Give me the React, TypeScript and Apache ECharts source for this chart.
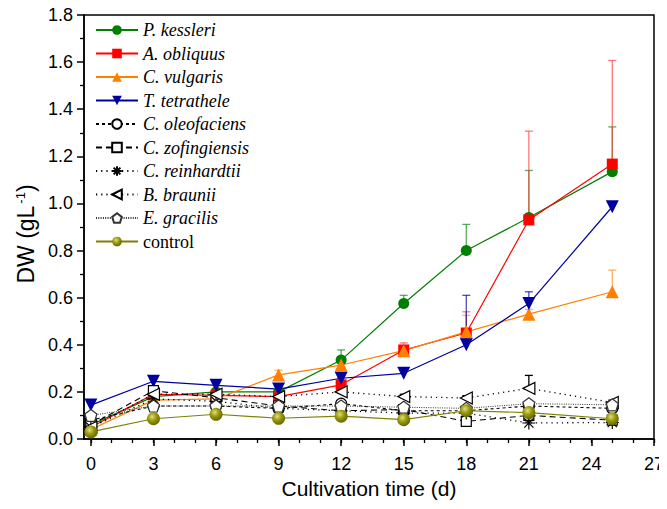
import React, { useEffect, useRef } from "react";
import * as echarts from "echarts";

const times = [0, 3, 6, 9, 12, 15, 18, 21, 25];
const xTickLabels = [0, 3, 6, 9, 12, 15, 18, 21, 24, 27];
const xMinorTicks = [0, 1, 2, 3, 4, 5, 6, 7, 8, 9, 10, 11, 12, 13, 14, 15, 16, 17, 18, 19, 20, 21, 22, 23, 24, 25, 26, 27];

const seriesNames = [
  "P. kessleri",
  "A. obliquus",
  "C. vulgaris",
  "T. tetrathele",
  "C. oleofaciens",
  "C. zofingiensis",
  "C. reinhardtii",
  "B. braunii",
  "E. gracilis",
  "control",
];

const pKessleri = [0.06, 0.18, 0.2, 0.2, 0.335, 0.575, 0.8, 0.94, 1.135];
const aObliquus = [0.05, 0.19, 0.185, 0.18, 0.23, 0.378, 0.45, 0.93, 1.167];
const cVulgaris = [0.04, 0.165, 0.17, 0.272, 0.314, 0.375, 0.455, 0.53, 0.625];
const tTetrathele = [0.144, 0.245, 0.228, 0.212, 0.258, 0.279, 0.4, 0.575, 0.986];
const cOleofaciens = [0.08, 0.14, 0.14, 0.13, 0.15, 0.12, 0.12, 0.14, 0.13];
const cZofingiensis = [0.06, 0.205, 0.175, 0.14, 0.12, 0.125, 0.075, 0.1, 0.08];
const cReinhardtii = [0.05, 0.17, 0.16, 0.13, 0.12, 0.11, 0.11, 0.068, 0.07];
const bBraunii = [0.05, 0.19, 0.19, 0.18, 0.2, 0.18, 0.174, 0.215, 0.155];
const eGracilis = [0.1, 0.14, 0.14, 0.14, 0.14, 0.135, 0.13, 0.15, 0.145];
const control = [0.03, 0.086, 0.105, 0.088, 0.097, 0.082, 0.12, 0.112, 0.086];

const errPKessleri = [0.01, 0.01, 0.01, 0.01, 0.043, 0.035, 0.111, 0.2, 0.19];
const errAObliquus = [0.01, 0.02, 0.02, 0.02, 0.03, 0.03, 0.09, 0.377, 0.44];
const errCVulgaris = [0.01, 0.02, 0.01, 0.02, 0.02, 0.02, 0.07, 0.02, 0.092];
const errTTetrathele = [0.01, 0.01, 0.02, 0.01, 0.02, 0.01, 0.21, 0.05, 0.012];
const errCOleofaciens = [0.01, 0.01, 0.01, 0.01, 0.01, 0.01, 0.01, 0.01, 0.01];
const errCZofingiensis = [0.01, 0.01, 0.01, 0.01, 0.01, 0.01, 0.01, 0.01, 0.01];
const errCReinhardtii = [0.01, 0.01, 0.01, 0.01, 0.01, 0.01, 0.01, 0.01, 0.01];
const errBBraunii = [0.01, 0.01, 0.01, 0.01, 0.01, 0.01, 0.01, 0.055, 0.01];
const errEGracilis = [0.01, 0.01, 0.01, 0.01, 0.01, 0.01, 0.01, 0.01, 0.01];
const errControl = [0.01, 0.01, 0.01, 0.01, 0.01, 0.01, 0.01, 0.01, 0.01];

const seriesValues = [pKessleri, aObliquus, cVulgaris, tTetrathele, cOleofaciens, cZofingiensis, cReinhardtii, bBraunii, eGracilis, control];
const seriesErrors = [errPKessleri, errAObliquus, errCVulgaris, errTTetrathele, errCOleofaciens, errCZofingiensis, errCReinhardtii, errBBraunii, errEGracilis, errControl];

const asteriskPath = "path://M0,-10L0,10M-10,0L10,0M-7.07,-7.07L7.07,7.07M-7.07,7.07L7.07,-7.07";
const leftTriPath = "path://M-10,0L10,-10L10,10Z";
const pentagonPath = "path://M0,-10L9.51,-3.09L5.88,8.09L-5.88,8.09L-9.51,-3.09Z";

const styles: any[] = [
  { color: "#008000", symbol: "circle", size: 11, line: "solid", width: 1.2, fill: "#008000", errColor: "rgba(0,128,0,0.65)" },
  { color: "#FF0000", symbol: "rect", size: 11, line: "solid", width: 1.2, fill: "#FF0000", errColor: "rgba(255,60,60,0.7)" },
  { color: "#FF8000", symbol: "triangle", size: 13, line: "solid", width: 1.2, fill: "#FF8000", errColor: "rgba(255,140,30,0.7)" },
  { color: "#0000A0", symbol: "triangle", rotate: 180, size: 13, line: "solid", width: 1.2, fill: "#0000A0", errColor: "rgba(0,0,160,0.7)" },
  { color: "#000000", symbol: "circle", size: 11, line: [3, 3], width: 1.1, fill: "#ffffff", errColor: "#000" },
  { color: "#000000", symbol: "rect", size: 10, line: [6, 4], width: 1.1, fill: "#ffffff", errColor: "#000" },
  { color: "#000000", symbol: asteriskPath, size: 13, line: [1.2, 4], width: 1.3, fill: "none", errColor: "#000" },
  { color: "#000000", symbol: leftTriPath, size: 12, line: [1.2, 4], width: 1.3, fill: "#ffffff", errColor: "#000" },
  { color: "#333333", symbol: pentagonPath, size: 12, line: [1, 1.3], width: 1, fill: "#ffffff", errColor: "#000" },
  { color: "#808000", symbol: "circle", size: 13, line: "solid", width: 1.2, fill: null, errColor: "rgba(128,128,0,0.7)" },
];

export default function App() {
  const ref = useRef<HTMLDivElement>(null);
  useEffect(() => {
    if (!ref.current) return;
    const chart = echarts.init(ref.current, null, { renderer: "svg" });

    const lineSeries = seriesNames.map((name, k) => {
      const st = styles[k];
      const fill =
        st.fill === null
          ? new echarts.graphic.RadialGradient(0.4, 0.35, 0.7, [
              { offset: 0, color: "#e0e080" },
              { offset: 0.45, color: "#9a9a10" },
              { offset: 1, color: "#606000" },
            ])
          : st.fill;
      return {
        type: "line",
        name,
        data: times.map((t, i) => [t, seriesValues[k][i]]),
        symbol: st.symbol,
        symbolSize: st.size,
        symbolRotate: st.rotate || 0,
        showAllSymbol: true,
        lineStyle: { color: st.color, width: st.width, type: st.line },
        itemStyle: {
          color: fill,
          borderColor: st.color,
          borderWidth: st.fill === "#ffffff" || st.fill === "none" ? 1.2 : 0,
          opacity: 1,
        },
        z: 3,
      };
    });

    const errSeries = seriesNames.map((name, k) => {
      const st = styles[k];
      return {
        type: "custom",
        name: "err-" + name,
        data: times.map((t, i) => [t, seriesValues[k][i], seriesValues[k][i] + seriesErrors[k][i]]),
        renderItem: (params: any, api: any) => {
          const p0 = api.coord([api.value(0), api.value(1)]);
          const p1 = api.coord([api.value(0), api.value(2)]);
          const s = { stroke: st.errColor, lineWidth: 1.3 };
          return {
            type: "group",
            children: [
              { type: "line", shape: { x1: p0[0], y1: p0[1], x2: p1[0], y2: p1[1] }, style: s },
              { type: "line", shape: { x1: p1[0] - 4, y1: p1[1], x2: p1[0] + 4, y2: p1[1] }, style: s },
            ],
          };
        },
        z: 2,
        silent: true,
      };
    });

    const option: any = {
      animation: false,
      backgroundColor: "#ffffff",
      grid: { left: 84, right: 10, top: 15, bottom: 70, show: true, borderColor: "#000", borderWidth: 1.5, backgroundColor: "transparent" },
      legend: {
        data: seriesNames,
        orient: "vertical",
        left: 90,
        top: 16,
        itemWidth: 42,
        itemHeight: 12,
        itemGap: 5.5,
        formatter: (n: string) => (n === "control" ? `{n|${n}}` : `{i|${n}}`),
        textStyle: {
          color: "#000",
          fontFamily: "Liberation Serif",
          fontSize: 18,
          rich: {
            i: { fontStyle: "italic", fontFamily: "Liberation Serif", fontSize: 18, color: "#000" },
            n: { fontFamily: "Liberation Serif", fontSize: 18, color: "#000" },
          },
        },
      },
      xAxis: [
        {
          type: "value",
          min: -0.33,
          max: 27,
          position: "bottom",
          name: "Cultivation time (d)",
          nameLocation: "middle",
          nameGap: 36,
          nameTextStyle: { fontFamily: "Liberation Sans", fontSize: 21, color: "#000" },
          axisLine: { show: true, onZero: false, lineStyle: { color: "#000", width: 1.5 } },
          axisTick: { show: true, inside: false, length: 7, customValues: xTickLabels, lineStyle: { color: "#000", width: 1.5 } },
          axisLabel: { customValues: xTickLabels, fontFamily: "Liberation Sans", fontSize: 18, color: "#000", margin: 16, formatter: (v: number) => String(v) },
          splitLine: { show: false },
        },
        {
          type: "value",
          min: -0.33,
          max: 27,
          position: "bottom",
          offset: 0,
          axisLine: { show: false, onZero: false },
          axisTick: { show: true, inside: false, length: 4, customValues: xMinorTicks, lineStyle: { color: "#000", width: 1.3 } },
          axisLabel: { show: false },
          splitLine: { show: false },
        },
      ],
      yAxis: {
        type: "value",
        min: 0,
        max: 1.8,
        interval: 0.2,
        name: "DW (gL{sup|-1})",
        nameLocation: "middle",
        nameGap: 44,
        nameRotate: 90,
        nameTextStyle: {
          fontFamily: "Liberation Sans",
          fontSize: 23,
          color: "#000",
          padding: [0, 14, 0, 0],
          rich: { sup: { fontSize: 13, verticalAlign: "top", padding: [0, 0, 11, 2], fontFamily: "Liberation Sans", color: "#000" } },
        },
        axisLine: { show: true, onZero: false, lineStyle: { color: "#000", width: 1.5 } },
        axisTick: { show: true, inside: false, length: 7, lineStyle: { color: "#000", width: 1.5 } },
        minorTick: { show: true, splitNumber: 2, length: 4, lineStyle: { color: "#000", width: 1.3 } },
        axisLabel: { fontFamily: "Liberation Sans", fontSize: 18, color: "#000", margin: 11, formatter: (v: number) => v.toFixed(1) },
        splitLine: { show: false },
      },
      series: [...errSeries, ...lineSeries],
    };
    chart.setOption(option);
    return () => chart.dispose();
  }, []);
  return <div ref={ref} style={{ width: 667, height: 509, margin: -8 }} />;
}
